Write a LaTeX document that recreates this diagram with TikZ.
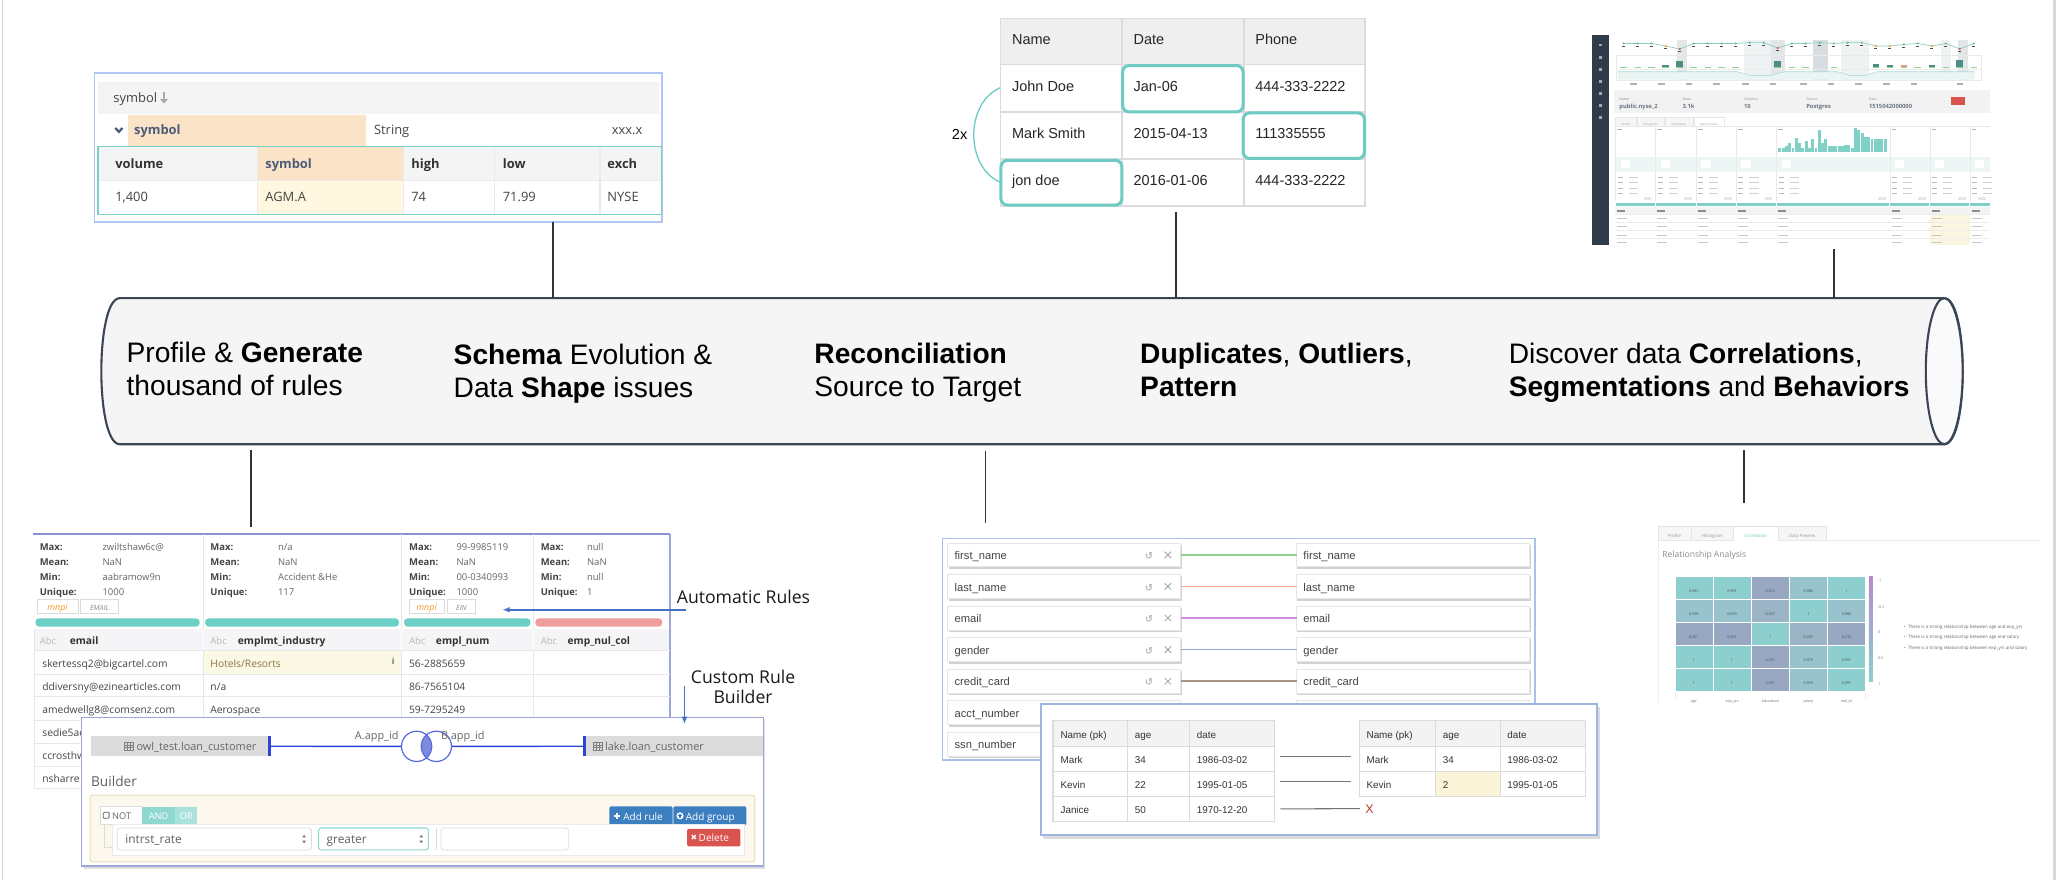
\documentclass[tikz,border=0pt]{standalone}
\usepackage{fontspec}
\setmainfont{Liberation Sans}
\newfontfamily\osf{Open Sans}
\newfontfamily\djv{DejaVu Sans}
\usetikzlibrary{arrows.meta,fit}
\newcommand\fsz[2]{\fontsize{#1}{#2}\selectfont}
\definecolor{cyl}{HTML}{3B4654}
\definecolor{cylfill}{HTML}{F5F5F5}
\definecolor{cylcap}{HTML}{FAFAFA}
\definecolor{pblue}{HTML}{AFC7F2}
\definecolor{tealb}{HTML}{7ACFC6}
\definecolor{hteal}{HTML}{6ECBC3}
\definecolor{peach}{HTML}{FAE3C6}
\definecolor{lyel}{HTML}{FFF7E0}
\definecolor{hgray}{HTML}{F4F4F4}
\definecolor{slate}{HTML}{4B5C7A}
\definecolor{txt}{HTML}{333333}
\definecolor{gridc}{HTML}{DCDCDC}
\definecolor{arrblue}{HTML}{4472C4}
\definecolor{dpurp}{HTML}{8C90D0}
\definecolor{barteal}{HTML}{6DD0C6}
\definecolor{barsal}{HTML}{EE9C9C}
\definecolor{otag}{HTML}{F39A2C}
\definecolor{builderb}{HTML}{9EA6D8}
\definecolor{gbar}{HTML}{DCDCDC}
\definecolor{jblue}{HTML}{2E44D8}
\definecolor{vennf}{HTML}{7C8BDB}
\definecolor{cream}{HTML}{FCF8EE}
\definecolor{creamb}{HTML}{EBDDB8}
\definecolor{andc}{HTML}{8ED8CF}
\definecolor{orc}{HTML}{A9E2DA}
\definecolor{btnblue}{HTML}{3C7FC1}
\definecolor{delred}{HTML}{D9534F}
\definecolor{mapb}{HTML}{A9C1E8}
\definecolor{shadowc}{HTML}{D2D2D2}
\definecolor{lgreen}{HTML}{8FD18F}
\definecolor{lsalmon}{HTML}{F5A68C}
\definecolor{lviolet}{HTML}{CF8BDC}
\definecolor{lblue}{HTML}{8EA8E2}
\definecolor{lbrown}{HTML}{A89484}
\definecolor{xred}{HTML}{C0392B}
\definecolor{sidebar}{HTML}{2F3B48}
\definecolor{hm1}{HTML}{8DCFCF}
\definecolor{hm2}{HTML}{98C3CC}
\definecolor{hm3}{HTML}{98A8C3}
\definecolor{hm4}{HTML}{9BB4C6}
\definecolor{cbtop}{HTML}{B38CC6}
\definecolor{dgt}{HTML}{444444}
\definecolor{vgt}{HTML}{666666}
\definecolor{conc}{HTML}{333333}
\definecolor{edge}{HTML}{D0D0D0}
\definecolor{hdrB}{HTML}{EFEFEF}
\definecolor{bandA}{HTML}{E4E7E8}
\definecolor{bandB}{HTML}{EEF2F2}
\definecolor{bandC}{HTML}{E3E6E8}
\definecolor{bandD}{HTML}{D8DDE2}
\definecolor{areaF}{HTML}{E9F4F3}
\definecolor{areaL}{HTML}{A9D8D2}
\definecolor{dotL}{HTML}{8CCBB8}
\definecolor{dg}{HTML}{5FB89F}
\definecolor{dorg}{HTML}{F0A040}
\definecolor{dred}{HTML}{E05050}
\definecolor{bsal}{HTML}{E29A8A}
\definecolor{bdark}{HTML}{4F8C86}
\definecolor{infobg}{HTML}{F2F2F2}
\definecolor{infot}{HTML}{6B7480}
\definecolor{tabbg}{HTML}{F6F6F6}
\definecolor{inrow}{HTML}{EEF6F5}
\definecolor{histc}{HTML}{7FD1C7}
\definecolor{pillc}{HTML}{E6E6E6}
\definecolor{thg}{HTML}{F3F3F3}
\definecolor{ycol}{HTML}{FBF6DF}
\definecolor{hdrD}{HTML}{F5F5F7}
\definecolor{ycell}{HTML}{FCF8E6}
\definecolor{ytext}{HTML}{8A7444}
\definecolor{recb}{HTML}{9DB6E0}
\definecolor{ycell2}{HTML}{FCF4D8}
\tikzset{
 tx/.style={inner sep=0pt, anchor=west, text height=0.7em, text depth=0pt},
 txc/.style={inner sep=0pt, anchor=center, text height=0.7em, text depth=0pt},
 txe/.style={inner sep=0pt, anchor=east, text height=0.7em, text depth=0pt},
 conn/.style={draw=conc, line width=1.1},
 fr/.style={inner sep=0pt, outer sep=0pt},
 cyltext/.style={tx, font=\fsz{21.4}{25}, text=black},
 uiA/.style={tx, font=\osf\fsz{9.8}{11}, text=dgt},
 uiAb/.style={tx, font=\osf\bfseries\fsz{9.8}{11}, text=txt},
 tabB/.style={tx, font=\fsz{11}{13}, text=black!85},
 stl/.style={tx, font=\osf\bfseries\fsz{7.2}{8}, text=dgt},
 stv/.style={tx, font=\osf\fsz{7.2}{8}, text=vgt},
 rowt/.style={tx, font=\osf\fsz{7.8}{9}, text=dgt},
 mapt/.style={tx, font=\fsz{8.5}{10}, text=dgt},
 rect/.style={tx, font=\fsz{7.5}{9}, text=txt},
 tiny/.style={txc, font=\osf\fsz{2.8}{3}, text=dgt},
}
\newcommand\statcol[7]{%
 \node[stl] (#7a) at (#1,414.9) {Max:};
 \node[stl] (#7b) at (#1,426.3) {Mean:};
 \node[stl] (#7c) at (#1,437.7) {Min:};
 \node[stl] (#7d) at (#1,448.8) {Unique:};
 \node[stv] (#7e) at (#2,414.9) {#3};
 \node[stv] (#7f) at (#2,426.3) {#4};
 \node[stv] (#7g) at (#2,437.7) {#5};
 \node[stv] (#7h) at (#2,448.8) {#6};
}
\newcommand\mapbox[4]{%
 \fill[shadowc] (#1+0.6,#3+1.4) rectangle (#2+0.9,#3+19.8);
 \fill[white] (#1,#3) rectangle (#2,#3+18.2);
 \draw[gridc!70, line width=0.5] (#1,#3) rectangle (#2,#3+18.2);
 \node[fr, fit={(#1,#3) (#2,#3+18.2)}] (#4) {};
}
\begin{document}
\begin{tikzpicture}[x=1pt,y=-1pt]
\useasboundingbox (0,0) rectangle (1568,668.5);
\fill[white] (0,0) rectangle (1568,668.5);
\draw[edge, line width=1.2] (1.9,0) -- (1.9,668.5);
\draw[edge!85, line width=2.5] (1560.8,0) -- (1560.8,668.5);

% ================= cylinder =================
\path[fill=cylfill, draw=cyl, line width=1.6] (91,226.5) -- (1477,226.5)
  .. controls (1495.7,226.5) and (1495.7,337.5) .. (1477,337.5) -- (91,337.5)
  .. controls (72.3,337.5) and (72.3,226.5) .. (91,226.5) -- cycle;
\draw[cyl, line width=1.6, fill=cylcap] (1477,282) ellipse [x radius=14, y radius=55.5];
\node[fr, fit={(77,226.5) (1491,337.5)}] (cyl) {};

\node[cyltext] (l1a) at (96,272) {Profile \& \textbf{Generate}};
\node[cyltext] (l1b) at (96,297) {thousand of rules};
\node[cyltext] (l2a) at (344.5,273.5) {\textbf{Schema} Evolution \&};
\node[cyltext] (l2b) at (344.5,298.5) {Data \textbf{Shape} issues};
\node[cyltext] (l3a) at (618.5,273) {\textbf{Reconciliation}};
\node[cyltext] (l3b) at (618.5,298) {Source to Target};
\node[cyltext] (l4a) at (866,272.5) {\textbf{Duplicates}, \textbf{Outliers},};
\node[cyltext] (l4b) at (866,297.5) {\textbf{Pattern}};
\node[cyltext] (l5a) at (1146,273) {Discover data \textbf{Correlations},};
\node[cyltext] (l5b) at (1146,298) {\textbf{Segmentations} and \textbf{Behaviors}};

% ================= panel A (top left) =================
\node[fr, fit={(71.8,55.2) (502.7,168.5)}, draw=pblue, line width=1.4, fill=white] (pA) {};
\fill[hgray] (74.5,62.3) rectangle (501,86.6);
\node[uiA] (aS) at (86,74) {symbol};
\coordinate (aArrT) at (124.6,69.6);
\coordinate (aArrB) at (124.6,78.6);
\draw[black!33, line width=1.7, -{Triangle[length=3.2,width=5.6]}] (aArrT) -- (aArrB);
\fill[peach] (97.3,87) rectangle (277.8,111);
\draw[slate, line width=1.7] (87.6,97.2) -- (90.3,100.2) -- (93,97.2);
\node[tx, font=\osf\bfseries\fsz{9.8}{11}, text=slate] (aSym) at (101.7,99) {symbol};
\node[uiA] (aStr) at (284,99) {String};
\node[uiA] (aX) at (464.7,99) {xxx.x};
\fill[hgray] (74.5,111.3) rectangle (502.7,137.3);
\fill[peach] (195.4,111.3) rectangle (306.8,137.3);
\fill[lyel] (195.4,137.3) rectangle (306.8,162.9);
\draw[gridc!60, line width=0.8] (74.5,137.3) -- (502.7,137.3);
\foreach \xx in {195.4,306.8,376,455.8} \draw[gridc!60, line width=0.8] (\xx,111.3) -- (\xx,162.9);
\draw[tealb, line width=1.1] (74.5,111.3) rectangle (502.7,162.9);
\node[uiAb] (ah1) at (87.4,124.6) {volume};
\node[tx, font=\osf\bfseries\fsz{9.8}{11}, text=slate] (ah2) at (201.4,124.6) {symbol};
\node[uiAb] (ah3) at (312.3,124.6) {high};
\node[uiAb] (ah4) at (381.8,124.6) {low};
\node[uiAb] (ah5) at (461.3,124.6) {exch};
\node[uiA] (ad1) at (87.4,149.8) {1,400};
\node[uiA] (ad2) at (201.4,149.8) {AGM.A};
\node[uiA] (ad3) at (312.3,149.8) {74};
\node[uiA] (ad4) at (381.8,149.8) {71.99};
\node[uiA] (ad5) at (461.3,149.8) {NYSE};

% ================= panel B (top middle table) =================
\node[fr, fit={(760,14) (1037,156.5)}, fill=white] (pB) {};
\fill[hdrB] (760,14) rectangle (1037,48.9);
\foreach \yy in {48.9,84.9,120.8} \draw[gridc, line width=1.3] (760,\yy) -- (1037,\yy);
\foreach \xx in {852.3,944.8} \draw[gridc, line width=1.3] (\xx,14) -- (\xx,156.5);
\draw[gridc, line width=1.3] (760,14) rectangle (1037,156.5);
\node[tabB] (bh1) at (768.7,30) {Name};
\node[tabB] (bh2) at (861,30) {Date};
\node[tabB] (bh3) at (953.5,30) {Phone};
\node[tabB] (b11) at (768.7,65.8) {John Doe};
\node[tabB] (b12) at (861,65.8) {Jan-06};
\node[tabB] (b13) at (953.5,65.8) {444-333-2222};
\node[tabB] (b21) at (768.7,101.6) {Mark Smith};
\node[tabB] (b22) at (861,101.6) {2015-04-13};
\node[tabB] (b23) at (953.5,101.6) {111335555};
\node[tabB] (b31) at (768.7,137.5) {jon doe};
\node[tabB] (b32) at (861,137.5) {2016-01-06};
\node[tabB] (b33) at (953.5,137.5) {444-333-2222};
\draw[hteal, line width=2.3, rounded corners=5] (852.8,49.8) rectangle (944.4,85);
\draw[hteal, line width=2.3, rounded corners=5] (944.4,85.8) rectangle (1036.6,120.4);
\draw[hteal, line width=2.3, rounded corners=5] (760.4,121.8) rectangle (852.3,155.8);
\coordinate (br1) at (760,66.6);
\coordinate (br2) at (760,138.5);
\draw[hteal, line width=1] (br1) .. controls +(-27,11.4) and +(-27,-11.5) .. (br2);
\node[txc, font=\fsz{11}{13}] (b2x) at (729,102.5) {2x};

% ================= panel C (dashboard) =================
\node[fr, fit={(1209.5,26.6) (1513,186)}, fill=white] (pC) {};
\fill[sidebar] (1209.5,26.6) rectangle (1222,186);
\foreach \yy in {34.2,43.6,52.7,62,70.9,80.3,89.4} \fill[white!55!sidebar] (1214.6,\yy-1.1) rectangle (1217,\yy+1.1);
\foreach \xa/\xb/\cl in {1274.1/1281.7/bandA, 1324.7/1345.5/bandB, 1345.7/1356.4/bandC, 1377.4/1388.5/bandD, 1398.9/1420.2/bandB, 1474.2/1481.8/bandB, 1487.3/1494.9/bandC}
  \fill[\cl] (\xa,30.5) rectangle (\xb,60.8);
\draw[gridc!60, line width=0.4] (1228,42.3) rectangle (1505,52.3);
\draw[gridc!60, line width=0.4] (1228,52.7) rectangle (1505,60.8);
\fill[areaF] (1229,54.5) -- (1320,54.5) -- (1330,57.3) -- (1345,57.3) -- (1356,54.5) -- (1396,54.5) -- (1405,57.3) -- (1417,57.3) -- (1426,54.5) -- (1500,54.5) -- (1500,60.5) -- (1229,60.5) -- cycle;
\draw[areaL, line width=0.4] (1229,54.5) -- (1320,54.5) -- (1330,57.3) -- (1345,57.3) -- (1356,54.5) -- (1396,54.5) -- (1405,57.3) -- (1417,57.3) -- (1426,54.5) -- (1500,54.5);
\draw[dotL, line width=0.5] plot coordinates {(1233.5,33) (1244.2,33) (1254.8,33) (1265.4,35) (1276.1,37.2) (1286.7,33) (1297.4,33) (1308,33) (1318.6,33) (1329.3,32.4) (1339.9,32.4) (1350.5,36.5) (1361.2,33) (1371.8,33) (1382.5,32.4) (1393.1,33) (1403.7,32.4) (1414.4,32.4) (1425,35) (1435.7,35) (1446.3,33.8) (1456.9,33) (1467.6,35) (1478.2,33) (1488.8,37.2) (1499.5,33)};
\foreach \xx/\yy/\cl in {1233.5/33/dg, 1244.2/33/dg, 1254.8/33/dg, 1265.4/35/dorg, 1276.1/37.2/dred, 1286.7/33/dg, 1297.4/33/dg, 1308/33/dg, 1318.6/33/dg, 1329.3/32.4/dg, 1339.9/32.4/dg, 1350.5/36.5/dred, 1361.2/33/dg, 1371.8/33/dg, 1382.5/32.4/dg, 1393.1/33/dg, 1403.7/32.4/dg, 1414.4/32.4/dg, 1425/35/dorg, 1435.7/35/dorg, 1446.3/33.8/dg, 1456.9/33/dg, 1467.6/35/dorg, 1478.2/33/dg, 1488.8/37.2/dred, 1499.5/33/dg}
  {\fill[\cl] (\xx,\yy) circle (0.9); \fill[black!70] (\xx-1.2,\yy+1.6) rectangle (\xx+1.2,\yy+2.3);}
\foreach \xx/\hh/\cl in {1233.5/1/bsal, 1244.2/1/lgreen, 1254.8/0.8/lgreen, 1265.4/2.5/bdark, 1276.1/5.5/bdark, 1286.7/0.8/bsal, 1297.4/0.8/lgreen, 1308/0.8/lgreen, 1318.6/0.8/lgreen, 1350.5/5.5/bdark, 1361.2/0.8/lgreen, 1371.8/0.8/bsal, 1393.1/0.8/lgreen, 1425/2.8/bdark, 1435.7/2.5/bdark, 1446.3/2/bsal, 1456.9/0.6/lgreen, 1467.6/2/bdark, 1478.2/0.8/bsal, 1488.8/6/bdark, 1499.5/1/bdark}
  {\fill[\cl] (\xx-2.5,51.7-\hh) rectangle (\xx+2.5,51.7); \fill[lgreen] (\xx-2.5,51.7-0.8) rectangle (\xx+2.5,51.7);}
\foreach \xx in {1241,1262,1283,1304,1326,1347,1370,1391,1412,1433,1454,1489} \fill[black!30] (\xx-2.5,63.4) rectangle (\xx+2.5,64.2);
\fill[infobg] (1226.4,68.4) rectangle (1512,85.6);
\node[tx, font=\osf\fsz{2.6}{3}, text=black!45] (dn1) at (1230,73.2) {Name};
\node[tx, font=\osf\fsz{2.6}{3}, text=black!45] (dn2) at (1278,73.2) {Rows};
\node[tx, font=\osf\fsz{2.6}{3}, text=black!45] (dn3) at (1324.7,73.2) {Columns};
\node[tx, font=\osf\fsz{2.6}{3}, text=black!45] (dn4) at (1372,73.2) {Source};
\node[tx, font=\osf\fsz{2.6}{3}, text=black!45] (dn5) at (1419.7,73.2) {Date};
\node[tx, font=\osf\bfseries\fsz{4.4}{5}, text=infot] (dv1) at (1230,78.9) {public.nyse\_2};
\node[tx, font=\osf\bfseries\fsz{4.4}{5}, text=infot] (dv2) at (1278,78.9) {3.1k};
\node[tx, font=\osf\bfseries\fsz{4.4}{5}, text=infot] (dv3) at (1324.7,78.9) {10};
\node[tx, font=\osf\bfseries\fsz{4.4}{5}, text=infot] (dv4) at (1372,78.9) {Postgres};
\node[tx, font=\osf\bfseries\fsz{4.4}{5}, text=infot] (dv5) at (1419.7,78.9) {1515042000000};
\fill[delred] (1482,74) rectangle (1493,80);
\foreach \xa/\xb/\lab/\cl in {1227.2/1243.2/Profile/tabbg, 1243.7/1263.9/Histogram/tabbg, 1264.7/1286.2/Correlation/tabbg, 1286.7/1309.5/Data Preview/white}
  {\fill[\cl] (\xa,88.7) rectangle (\xb,95.5); \draw[gridc!70, line width=0.3] (\xa,95.5) -- (\xa,88.7) -- (\xb,88.7) -- (\xb,95.5);
   \node[txc, font=\osf\fsz{2.2}{3}, text=black!40] at ({(\xa+\xb)/2},92.1) {\lab};}
\draw[gridc!70, line width=0.3] (1227.2,95.7) -- (1512,95.7);
\fill[inrow] (1227.2,119) rectangle (1512,130.5);
\foreach \xx in {1227.2,1257.6,1288.5,1318.9,1349.5,1435.7,1466,1496.5}
  {\draw[gridc!60, line width=0.3] (\xx,95.7) -- (\xx,153);
   \fill[white] (\xx+4,121.5) rectangle (\xx+11,128);
   \fill[black!30] (\xx+1.5,98) rectangle (\xx+5,98.8);}
\foreach \ii/\hh in {0/3.5,1/3.5,2/4.8,3/7.3,4/3.5,5/10.6,6/6.8,7/3.5,8/8.9,9/3.5,10/9.9,11/3.5,12/17,13/7.3,14/9.9,15/4.8,16/4.8,17/4.8,18/4.8,19/4.8,20/5.6,21/5.6,22/3.5,23/18.2,24/17,25/14.4,26/11.4,27/11.4,28/9.9,29/9.9,30/9.9,31/9.9,32/9.9}
  \fill[histc] ({1351+\ii*2.5},115.8-\hh) rectangle ({1351+\ii*2.5+2.2},115.8);
\foreach \xx/\wd in {1227.2/30.4,1257.6/30.9,1288.5/30.4,1318.9/30.6,1349.5/86.2,1435.7/30.3,1466/30.5,1496.5/15.5}
  {\foreach \yy in {134.7,138.8,142.9,147} {\fill[black!28] (\xx+1.8,\yy-0.4) rectangle (\xx+5.5,\yy+0.4); \fill[black!18] (\xx+10,\yy-0.4) rectangle (\xx+17,\yy+0.4);}
   \fill[pillc] (\xx+\wd-9,149.6) rectangle (\xx+\wd-3,151.6);
   \fill[histc] (\xx+0.4,154) rectangle (\xx+\wd-0.4,156.3);}
\fill[thg] (1227.2,157.6) rectangle (1512,163);
\fill[ycol] (1466,163) rectangle (1496.5,186);
\foreach \yy in {163,168.9,175,181} \draw[gridc!50, line width=0.3] (1227.2,\yy) -- (1512,\yy);
\foreach \xx in {1227.2,1257.6,1288.5,1318.9,1349.5,1435.7,1466,1496.5}
  {\fill[black!45] (\xx+1.5,159.9) rectangle (\xx+7.5,160.7);
   \foreach \yy in {166,172,178.6,184.4} \fill[black!22] (\xx+1.5,\yy-0.4) rectangle (\xx+9,\yy+0.4);}

% ================= panel G (correlation) =================
\node[fr, fit={(1246,395) (1555,535)}, fill=white] (pG) {};
\foreach \xa/\xb/\lab/\cl/\tc in {1259.4/1284.7/Profile/tabbg/black!40, 1284.7/1317.1/Histogram/tabbg/black!40, 1317.1/1350.6/Correlation/white/hteal, 1350.6/1387.3/Data Preview/tabbg/black!40}
  {\fill[\cl] (\xa,399.7) rectangle (\xb,410.8); \draw[gridc!80, line width=0.4] (\xa,410.8) -- (\xa,399.7) -- (\xb,399.7) -- (\xb,410.8);
   \node[txc, font=\osf\fsz{3.3}{4}, text=\tc] at ({(\xa+\xb)/2},405.2) {\lab};}
\draw[gridc!70, line width=0.4] (1350.6,410.8) -- (1550,410.8);
\draw[gridc!70, line width=0.4] (1259.4,410.8) -- (1317.1,410.8);
\draw[gridc!50, line width=0.4] (1259.4,410.8) -- (1259.4,534.4);
\node[tx, font=\osf\fsz{6.5}{7}, text=black!45] (gRA) at (1262.7,420.4) {Relationship Analysis};
\foreach \cc/\rr/\vv/\cl in {0/0/0.991/hm1, 1/0/0.991/hm1, 2/0/0.272/hm3, 3/0/0.980/hm2, 4/0/1/hm1,
  0/1/0.979/hm2, 1/1/0.979/hm2, 2/1/0.267/hm4, 3/1/1/hm1, 4/1/0.980/hm2,
  0/2/0.251/hm3, 1/2/0.251/hm3, 2/2/1/hm1, 3/2/0.267/hm4, 4/2/0.272/hm3,
  0/3/1/hm1, 1/3/1/hm1, 2/3/0.251/hm3, 3/3/0.979/hm2, 4/3/0.991/hm1,
  0/4/1/hm1, 1/4/1/hm1, 2/4/0.251/hm3, 3/4/0.979/hm2, 4/4/0.991/hm1}
  {\fill[\cl, draw=white, line width=0.4] ({1272.3+\cc*29},{437.7+\rr*17.56}) rectangle ++(29,17.56);
   \node[tiny] (hm\cc\rr) at ({1286.8+\cc*29},{446.48+\rr*17.56}) {\vv};}
\shade[top color=cbtop, bottom color=hm1] (1419.7,438.2) rectangle (1422.8,518);
\foreach \yy/\lab in {438.2/-1, 458.9/-0.5, 477.9/0, 497.7/0.5, 517.4/1}
  \node[tx, font=\osf\fsz{2.8}{3}, text=black!55] at (1426.5,\yy) {\lab};
\foreach \xx/\lab in {1286.7/age, 1315.9/exp\_yrs, 1345/education, 1373.6/salary, 1402.7/owl\_id}
  \node[tiny, text=black!55] at (\xx,529.9) {\lab};
\draw[gridc!50, line width=0.3] (1272.3,525.5) -- (1272.3,532) (1417.2,525.5) -- (1417.2,532);
\node[tx, font=\osf\fsz{3.4}{4}, text=black!60] (gb1) at (1446.3,473.6) {•\ \ There is a strong relationship between age and exp\_yrs};
\node[tx, font=\osf\fsz{3.4}{4}, text=black!60] (gb2) at (1446.3,481.7) {•\ \ There is a strong relationship between age and salary};
\node[tx, font=\osf\fsz{3.4}{4}, text=black!60] (gb3) at (1446.3,489.8) {•\ \ There is a strong relationship between exp\_yrs and salary};

% ================= panel D (profile table) =================
\node[fr, fit={(25,405.8) (509,599)}, fill=white] (pD) {};
\draw[dpurp, line width=1.2] (25,405.8) -- (509,405.8);
\draw[builderb, line width=1] (509,405.8) -- (509,599);
\foreach \xx in {154.3,305.2,405.2} \draw[gridc!70, line width=0.7] (\xx,405.8) -- (\xx,599);
\statcol{30}{77.7}{zwiltshaw6c@}{NaN}{aabramow9n}{1000}{s1}
\statcol{159.7}{211}{n/a}{NaN}{Accident \&He}{117}{s2}
\statcol{310.6}{346.6}{99-9985119}{NaN}{00-0340993}{1000}{s3}
\statcol{410.6}{445.8}{null}{NaN}{null}{1}{s4}
\draw[gridc, line width=0.5, fill=white] (28,455.5) rectangle (59.5,465.7);
\draw[gridc, line width=0.5, fill=white] (61.3,455.5) rectangle (90,465.7);
\draw[gridc, line width=0.5, fill=white] (310.6,455.5) rectangle (337.6,465.7);
\draw[gridc, line width=0.5, fill=white] (340,455.5) rectangle (361,465.7);
\node[txc, font=\osf\itshape\fsz{6.8}{7}, text=otag] (tg1) at (43.7,460.6) {mnpi};
\node[txc, font=\osf\itshape\fsz{5.4}{6}, text=black!45] (tg2) at (75.6,460.6) {EMAIL};
\node[txc, font=\osf\itshape\fsz{6.8}{7}, text=otag] (tg3) at (324.1,460.6) {mnpi};
\node[txc, font=\osf\itshape\fsz{5.4}{6}, text=black!45] (tg4) at (350.5,460.6) {EIN};
\fill[barteal, rounded corners=2.5] (27,469.8) rectangle (151.6,476);
\fill[barteal, rounded corners=2.5] (155.9,469.8) rectangle (303,476);
\fill[barteal, rounded corners=2.5] (307,469.8) rectangle (403,476);
\fill[barsal, rounded corners=2.5] (406.8,469.8) rectangle (503,476);
\fill[hdrD] (26,477.5) rectangle (508.5,494.4);
\foreach \xx in {154.3,305.2,405.2} \draw[white, line width=0.8] (\xx,477.5) -- (\xx,494.4);
\node[tx, font=\osf\fsz{7.2}{8}, text=black!28] (ha1) at (30,486) {Abc};
\node[tx, font=\osf\bfseries\fsz{7.8}{9}, text=txt] (hn1) at (52.8,486) {email};
\node[tx, font=\osf\fsz{7.2}{8}, text=black!28] (ha2) at (159.7,486) {Abc};
\node[tx, font=\osf\bfseries\fsz{7.8}{9}, text=txt] (hn2) at (180.5,486) {emplmt\_industry};
\node[tx, font=\osf\fsz{7.2}{8}, text=black!28] (ha3) at (310.6,486) {Abc};
\node[tx, font=\osf\bfseries\fsz{7.8}{9}, text=txt] (hn3) at (331,486) {empl\_num};
\node[tx, font=\osf\fsz{7.2}{8}, text=black!28] (ha4) at (410.6,486) {Abc};
\node[tx, font=\osf\bfseries\fsz{7.8}{9}, text=txt] (hn4) at (431,486) {emp\_nul\_col};
\fill[ycell] (154.6,494.8) rectangle (304.9,511.7);
\foreach \yy in {494.4,512,529.4,547,565,582,599} \draw[gridc!70, line width=0.6] (26,\yy) -- (509,\yy);
\draw[gridc!70, line width=0.6] (26,477.5) -- (26,599);
\foreach \xx in {154.3,305.2,405.2} \draw[gridc!70, line width=0.7] (\xx,494.4) -- (\xx,599);
\node[rowt] (r11) at (32,503.6) {skertessq2@bigcartel.com};
\node[tx, font=\osf\fsz{7.8}{9}, text=ytext] (r12) at (159.7,503.6) {Hotels/Resorts};
\node[tx, font=\osf\bfseries\fsz{6.5}{7}, text=black!60] (r1i) at (297.5,501.5) {i};
\node[rowt] (r13) at (310.6,503.6) {56-2885659};
\node[rowt] (r21) at (32,521) {ddiversny@ezinearticles.com};
\node[rowt] (r22) at (159.7,521) {n/a};
\node[rowt] (r23) at (310.6,521) {86-7565104};
\node[rowt] (r31) at (32,538.5) {amedwellg8@comsenz.com};
\node[rowt] (r32) at (159.7,538.5) {Aerospace};
\node[rowt] (r33) at (310.6,538.5) {59-7295249};
\node[rowt] (r41) at (32,556.3) {sedie5ac};
\node[rowt] (r51) at (32,573.8) {ccrosthw};
\node[rowt] (r61) at (32,590.8) {nsharre};

% ================= builder panel =================
\fill[shadowc!70] (63.5,546.5) rectangle (581.5,659.8);
\node[fr, fit={(62,545) (580,658)}, draw=builderb, line width=1.2, fill=white] (pE) {};
\fill[gbar] (69,559.3) rectangle (204.4,574.5);
\fill[gbar] (444,559.3) rectangle (579.4,574.5);
\draw[black!50, line width=0.5] (94.5,564.3) rectangle (101.5,569.9) (94.5,566.2) -- (101.5,566.2) (94.5,568) -- (101.5,568) (97,564.3) -- (97,569.9) (99.2,564.3) -- (99.2,569.9);
\node[tx, font=\osf\fsz{8.3}{9}, text=black!60] (eL) at (103.5,567) {owl\_test.loan\_customer};
\draw[black!50, line width=0.5] (450.5,564.3) rectangle (457.5,569.9) (450.5,566.2) -- (457.5,566.2) (450.5,568) -- (457.5,568) (453,564.3) -- (453,569.9) (455.2,564.3) -- (455.2,569.9);
\node[tx, font=\osf\fsz{8.3}{9}, text=black!60] (eR) at (459.5,567) {lake.loan\_customer};
\node[fr, minimum width=1, minimum height=15.2] (tkL) at (204.4,566.9) {};
\node[fr, minimum width=1, minimum height=15.2] (tkR) at (444,566.9) {};
\draw[jblue, line width=2.2] (tkL.north) -- (tkL.south);
\draw[jblue, line width=2.2] (tkR.north) -- (tkR.south);
\begin{scope}
  \clip (316.5,567) circle (11.5);
  \fill[vennf] (331.5,567) circle (11.5);
\end{scope}
\node[fr, circle, minimum size=23, draw=jblue!80, line width=0.9] (vA) at (316.5,567) {};
\node[fr, circle, minimum size=23, draw=jblue!80, line width=0.9] (vB) at (331.5,567) {};
\draw[jblue, line width=1.1] (tkL.center) -- (vA.west);
\draw[jblue, line width=1.1] (vB.east) -- (tkR.center);
\node[txe, font=\osf\fsz{8.3}{9}, text=black!60] (eA) at (303,558) {A.app\_id};
\node[tx, font=\osf\fsz{8.3}{9}, text=black!60] (eB) at (335,558) {B.app\_id};
\node[tx, font=\osf\fsz{10.4}{12}, text=black!62] (eBu) at (69,594) {Builder};
\draw[creamb, fill=cream, line width=0.8, rounded corners=2] (68.5,604) rectangle (573.5,654.8);
\draw[gridc, fill=white, line width=0.5] (76,612.7) rectangle (108,626);
\draw[black!60, line width=0.6, rounded corners=0.8] (78.4,617.1) rectangle (82.9,621.6);
\node[tx, font=\osf\fsz{7}{8}, text=black!60] (eNot) at (85,619.4) {NOT};
\fill[andc] (108,612.7) rectangle (133,626);
\fill[orc] (133,612.7) rectangle (150,626);
\node[txc, font=\osf\fsz{7}{8}, text=white] (eAnd) at (120.5,619.4) {AND};
\node[txc, font=\osf\fsz{7}{8}, text=white] (eOr) at (141.5,619.4) {OR};
\fill[btnblue, rounded corners=1] (463,612.6) rectangle (511,627);
\fill[btnblue, rounded corners=1] (511.6,612.6) rectangle (567,627);
\draw[white, line width=1.1] (466.3,619.8) -- (471.3,619.8) (468.8,617.3) -- (468.8,622.3);
\node[tx, font=\osf\fsz{7.6}{8}, text=white] (eAdd) at (473.3,619.8) {Add rule};
\fill[white] (516.6,619.8) circle (2.7);
\draw[btnblue, line width=0.8] (515.1,619.8) -- (518.1,619.8) (516.6,618.3) -- (516.6,621.3);
\node[tx, font=\osf\fsz{7.6}{8}, text=white] (eGrp) at (520.8,619.8) {Add group};
\draw[gridc, line width=0.7] (79.5,626) -- (79.5,644) -- (86,644);
\draw[gridc!60, fill=white, line width=0.5] (85,626.6) rectangle (565.5,649.5);
\draw[gridc, fill=white, line width=0.6, rounded corners=1.5] (89,629) rectangle (236.6,645.7);
\node[tx, font=\osf\fsz{9}{10}, text=black!62] (eSel1) at (95,637.4) {intrst\_rate};
\fill[black!55] (229.6,636.2) -- (231,634.2) -- (232.4,636.2) -- cycle;
\fill[black!55] (229.6,638.6) -- (231,640.6) -- (232.4,638.6) -- cycle;
\draw[andc, fill=white, line width=0.8, rounded corners=1.5] (242,629) rectangle (325.5,645.7);
\node[tx, font=\osf\fsz{9}{10}, text=black!62] (eSel2) at (248,637.4) {greater};
\fill[black!55] (318.6,636.2) -- (320,634.2) -- (321.4,636.2) -- cycle;
\fill[black!55] (318.6,638.6) -- (320,640.6) -- (321.4,638.6) -- cycle;
\draw[gridc, line width=0.6] (331.4,629) -- (331.4,646);
\draw[gridc, fill=white, line width=0.6, rounded corners=1.5] (335,629) rectangle (432,645.7);
\fill[delred, rounded corners=1] (522,629.7) rectangle (562.5,643);
\draw[white, line width=1.1] (525.6,634.4) -- (528.6,637.4) (525.6,637.4) -- (528.6,634.4);
\node[tx, font=\osf\fsz{7.6}{8}, text=white] (eDel) at (530.6,636) {Delete};

% annotations
\node[tx, font=\osf\fsz{13.4}{15}, text=black!90] (anA) at (514,455.3) {Automatic Rules};
\coordinate (arA) at (521,463.2);
\draw[arrblue, line width=1.3, -{Latex[length=5.5,width=4.5]}] (arA) -- ([xshift=27pt]tg4.east |- arA);
\node[inner sep=0pt, font=\osf\fsz{13.4}{15}, text=black!90, align=center] (anC) at (564.5,521.8) {Custom Rule\\Builder};
\coordinate (arC) at (520,521);
\draw[arrblue, line width=1.3, -{Latex[length=5.5,width=4.5]}] (arC) -- ([yshift=-5pt]arC |- pE.north);

% ================= panel F (mapping) =================
\node[fr, fit={(716,409) (1166,577.5)}, draw=mapb, line width=1.2, fill=white] (pF) {};
\mapbox{720}{897}{412.4}{mL1}
\mapbox{720}{897}{436.4}{mL2}
\mapbox{720}{897}{460.4}{mL3}
\mapbox{720}{897}{484.4}{mL4}
\mapbox{720}{897}{508.4}{mL5}
\mapbox{720}{897}{532.4}{mL6}
\mapbox{720}{897}{556.4}{mL7}
\mapbox{985}{1162}{412.4}{mR1}
\mapbox{985}{1162}{436.4}{mR2}
\mapbox{985}{1162}{460.4}{mR3}
\mapbox{985}{1162}{484.4}{mR4}
\mapbox{985}{1162}{508.4}{mR5}
\mapbox{985}{1162}{532.4}{mR6}
\foreach \nm/\lab in {1/first\_name,2/last\_name,3/email,4/gender,5/credit\_card,6/acct\_number,7/ssn\_number}
  \node[mapt] (mtL\nm) at ([xshift=5pt]mL\nm.west) {\lab};
\foreach \nm/\lab in {1/first\_name,2/last\_name,3/email,4/gender,5/credit\_card}
  {\node[mapt] (mtR\nm) at ([xshift=5pt]mR\nm.west) {\lab};
   \node[txc, font=\djv\fsz{7.5}{8}, text=black!38] (mi\nm) at ([xshift=-24.2pt]mL\nm.east) {↺};
   \draw[black!38, line width=0.6] ([xshift=-12.2pt,yshift=2.4pt]mL\nm.east) -- ([xshift=-7.4pt,yshift=-2.4pt]mL\nm.east)
     ([xshift=-12.2pt,yshift=-2.4pt]mL\nm.east) -- ([xshift=-7.4pt,yshift=2.4pt]mL\nm.east);}
\foreach \nm/\cl in {1/lgreen,2/lsalmon,3/lviolet,4/lblue,5/lbrown}
  \draw[\cl, line width=1.1] (mL\nm.east) -- (mR\nm.west);

% recon overlay
\fill[shadowc!80] (792.5,537) rectangle (1215.5,637);
\node[fr, fit={(791,535) (1213,634.5)}, draw=recb, line width=1.2, fill=white] (pR) {};
\fill[thg] (800,547.6) rectangle (968,567);
\fill[thg] (1032.5,547.6) rectangle (1204.5,567);
\fill[ycell2] (1090.7,586) rectangle (1139.7,605);
\foreach \yy in {567,586,605} \draw[gridc, line width=0.7] (800,\yy) -- (968,\yy);
\foreach \xx in {856.6,903.5} \draw[gridc, line width=0.7] (\xx,547.6) -- (\xx,624);
\draw[gridc, line width=0.9] (800,547.6) rectangle (968,624);
\draw[gridc, line width=0.7] (1032.5,567) -- (1204.5,567) (1032.5,586) -- (1204.5,586);
\foreach \xx in {1090.7,1139.7} \draw[gridc, line width=0.7] (\xx,547.6) -- (\xx,605);
\draw[gridc, line width=0.9] (1032.5,547.6) rectangle (1204.5,605);
\node[fr, fit={(800,547.6) (968,624)}] (tL) {};
\node[fr, fit={(1032.5,547.6) (1204.5,605)}] (tR) {};
\node[rect] (q01) at (805.5,557.3) {Name (pk)};
\node[rect] (q02) at (862,557.3) {age};
\node[rect] (q03) at (909,557.3) {date};
\node[rect] (q11) at (805.5,576.5) {Mark};
\node[rect] (q12) at (862,576.5) {34};
\node[rect] (q13) at (909,576.5) {1986-03-02};
\node[rect] (q21) at (805.5,595.5) {Kevin};
\node[rect] (q22) at (862,595.5) {22};
\node[rect] (q23) at (909,595.5) {1995-01-05};
\node[rect] (q31) at (805.5,614.5) {Janice};
\node[rect] (q32) at (862,614.5) {50};
\node[rect] (q33) at (909,614.5) {1970-12-20};
\node[rect] (w01) at (1038,557.3) {Name (pk)};
\node[rect] (w02) at (1096,557.3) {age};
\node[rect] (w03) at (1145,557.3) {date};
\node[rect] (w11) at (1038,576.5) {Mark};
\node[rect] (w12) at (1096,576.5) {34};
\node[rect] (w13) at (1145,576.5) {1986-03-02};
\node[rect] (w21) at (1038,595.5) {Kevin};
\node[rect] (w22) at (1096,595.5) {2};
\node[rect] (w23) at (1145,595.5) {1995-01-05};
\node[txc, font=\fsz{9.5}{11}, text=xred] (wx) at (1040.5,614.3) {X};
\draw[black!55, line width=0.8] ([xshift=4.6pt,yshift=1.5pt]tL.east |- q13) -- ([xshift=-6.5pt,yshift=1.5pt]tR.west |- w13);
\draw[black!55, line width=0.8] ([xshift=4.6pt,yshift=1.5pt]tL.east |- q23) -- ([xshift=-6.5pt,yshift=1.5pt]tR.west |- w23);
\draw[black!55, line width=0.8] ([xshift=4.6pt]tL.east |- q33) -- ([xshift=-4pt]wx.west);

% ================= connectors =================
\coordinate (c1) at (420,0);
\coordinate (c2) at (893.3,0);
\coordinate (c3) at (1393.2,0);
\coordinate (c4) at (190.8,0);
\coordinate (c5) at (748.5,0);
\coordinate (c6) at (1325,0);
\draw[conn] (pA.south -| c1) -- (cyl.north -| c1);
\draw[conn] ([yshift=-4.5pt]pB.south -| c2) -- (cyl.north -| c2);
\draw[conn] ([yshift=-3.5pt]pC.south -| c3) -- (cyl.north -| c3);
\draw[conn] ([yshift=-4.5pt]cyl.south -| c4) -- ([yshift=5.8pt]pD.north -| c4);
\draw[conn] ([yshift=-5pt]cyl.south -| c5) -- ([yshift=12pt]pF.north -| c5);
\draw[conn] ([yshift=-4.5pt]cyl.south -| c6) -- ([yshift=13pt]pG.north -| c6);
\end{tikzpicture}
\end{document}
